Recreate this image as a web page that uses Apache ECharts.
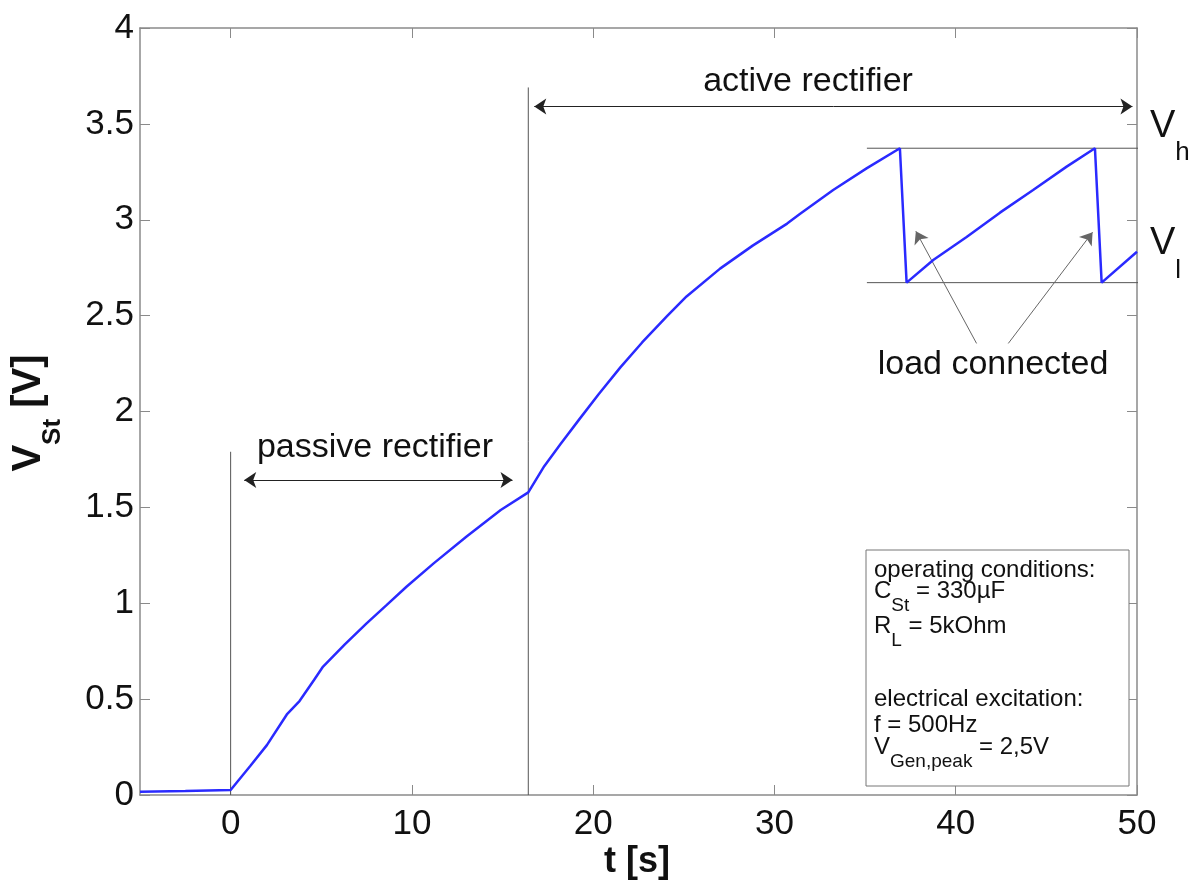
<!DOCTYPE html>
<html>
<head>
<meta charset="utf-8">
<script src="https://cdn.jsdelivr.net/npm/echarts@6/dist/echarts.min.js"></script>
<style>
html, body { margin: 0; background: #fff; }
#chart { width: 1200px; height: 882px; }
</style>
</head>
<body>
<div id="chart"></div>
<script>
// measured storage capacitor voltage
var timeData = [-5, -2.5, 0, 1.07, 2, 3.1, 3.8, 4.6, 5.1, 6.3, 7.5, 8.6, 9.7, 11.2, 13, 14.9, 16.42,
    17.3, 18.2, 19.2, 20.3, 21.5, 22.7, 24.1, 25.15, 27, 28.8, 30.7, 31.4, 33.24, 35.08, 36.92,
    37.29, 38.76, 40.6, 42.44, 44.27, 46.12, 47.68, 48.05, 50];
var voltageData = [0.017, 0.021, 0.026, 0.15, 0.26, 0.42, 0.49, 0.6, 0.67, 0.785, 0.895, 0.99, 1.086, 1.208, 1.347, 1.486, 1.578,
    1.715, 1.83, 1.955, 2.09, 2.23, 2.36, 2.5, 2.6, 2.745, 2.865, 2.98, 3.03, 3.155, 3.268, 3.373,
    2.672, 2.79, 2.91, 3.037, 3.155, 3.277, 3.373, 2.672, 2.833];

var xTickValues = [0, 10, 20, 30, 40, 50];
var vHigh = 3.373;
var vLow = 2.672;
var levelTime = [35.1, 51.4];
var passiveStart = [[0, 0], [0, 1.79]];
var activeStart = [[16.42, 0], [16.42, 3.69]];
var activeArrow = [[16.75, 3.59], [49.75, 3.59]];
var passiveArrow = [[0.75, 1.643], [15.55, 1.643]];
var loadArrow1 = [[41.15, 2.355], [37.8, 2.94]];
var loadArrow2 = [[42.9, 2.355], [47.55, 2.935]];

var FONT = "'Liberation Sans', Arial, sans-serif";
var axisGray = '#8a8a8a';

function zip(xs, ys) {
    var out = [];
    for (var i = 0; i < xs.length; i++) out.push([xs[i], ys[i]]);
    return out;
}

function helperLine(data) {
    return {
        type: 'line',
        data: data,
        symbol: 'none',
        clip: false,
        silent: true,
        lineStyle: { color: '#555', width: 1 },
        z: 3
    };
}

function subText(x, y, parts, fs, subFs, pad, bold, rot) {
    return {
        type: 'text',
        x: x,
        y: y,
        z: 20,
        rotation: rot || 0,
        silent: true,
        style: {
            text: parts,
            align: rot ? 'center' : 'left',
            verticalAlign: 'top',
            fill: '#111',
            rich: {
                m: { fontSize: fs, fontFamily: FONT, fontWeight: bold ? 'bold' : 'normal', verticalAlign: 'top' },
                s: { fontSize: subFs, fontFamily: FONT, fontWeight: bold ? 'bold' : 'normal', verticalAlign: 'top', padding: [pad, 0, 0, 0] }
            }
        }
    };
}

function plainText(x, y, txt, fs, align) {
    return {
        type: 'text',
        x: x,
        y: y,
        z: 20,
        silent: true,
        style: {
            text: txt,
            fontSize: fs,
            fontFamily: FONT,
            fill: '#111',
            align: align || 'center',
            verticalAlign: 'middle'
        }
    };
}

var chart = echarts.init(document.getElementById('chart'));

var arrowSeries = helperLine(passiveStart);
arrowSeries.markLine = {
    silent: true,
    animation: false,
    symbolSize: 12,
    label: { show: false },
    lineStyle: { color: '#222', width: 1, type: 'solid' },
    data: [
        [{ coord: activeArrow[0], symbol: 'arrow' }, { coord: activeArrow[1], symbol: 'arrow' }],
        [{ coord: passiveArrow[0], symbol: 'arrow' }, { coord: passiveArrow[1], symbol: 'arrow' }],
        [{ coord: loadArrow1[0], symbol: 'none' }, { coord: loadArrow1[1], symbol: 'arrow' }],
        [{ coord: loadArrow2[0], symbol: 'none' }, { coord: loadArrow2[1], symbol: 'arrow' }]
    ]
};
arrowSeries.markLine.data[2].forEach(function (d) { d.lineStyle = { color: '#666' }; });
arrowSeries.markLine.data[3].forEach(function (d) { d.lineStyle = { color: '#666' }; });

var option = {
    animation: false,
    backgroundColor: '#fff',
    grid: { left: 140, right: 63, top: 28, bottom: 87 },
    xAxis: [
        {
            type: 'value',
            min: -5,
            max: 50,
            position: 'bottom',
            axisLine: { show: true, onZero: false, lineStyle: { color: axisGray, width: 1.5 } },
            axisTick: { show: true, inside: true, length: 10, customValues: xTickValues, lineStyle: { color: axisGray } },
            axisLabel: { customValues: xTickValues, fontSize: 35, fontFamily: FONT, color: '#111', margin: 12 },
            splitLine: { show: false }
        },
        {
            type: 'value',
            min: -5,
            max: 50,
            position: 'top',
            axisLine: { show: true, onZero: false, lineStyle: { color: axisGray, width: 1.5 } },
            axisTick: { show: true, inside: true, length: 10, customValues: xTickValues, lineStyle: { color: axisGray } },
            axisLabel: { show: false },
            splitLine: { show: false }
        }
    ],
    yAxis: [
        {
            type: 'value',
            min: 0,
            max: 4,
            interval: 0.5,
            position: 'left',
            axisLine: { show: true, onZero: false, lineStyle: { color: axisGray, width: 1.5 } },
            axisTick: { show: true, inside: true, length: 10, lineStyle: { color: axisGray } },
            axisLabel: { fontSize: 35, fontFamily: FONT, color: '#111', margin: 6 },
            splitLine: { show: false }
        },
        {
            type: 'value',
            min: 0,
            max: 4,
            interval: 0.5,
            position: 'right',
            axisLine: { show: true, onZero: false, lineStyle: { color: axisGray, width: 1.5 } },
            axisTick: { show: true, inside: true, length: 10, lineStyle: { color: axisGray } },
            axisLabel: { show: false },
            splitLine: { show: false }
        }
    ],
    series: [
        arrowSeries,
        helperLine(activeStart),
        helperLine([[levelTime[0], vHigh], [levelTime[1], vHigh]]),
        helperLine([[levelTime[0], vLow], [levelTime[1], vLow]]),
        {
            type: 'line',
            data: zip(timeData, voltageData),
            symbol: 'none',
            lineStyle: { color: '#2a2aff', width: 2.5 },
            z: 5
        }
    ],
    graphic: [
        {
            type: 'rect',
            z: 10,
            silent: true,
            shape: { x: 866, y: 550, width: 263, height: 236 },
            style: { fill: '#fff', stroke: '#777', lineWidth: 1 }
        },
        plainText(874, 570, 'operating conditions:', 24, 'left'),
        subText(874, 579, '{m|C}{s|St}{m| = 330µF}', 24, 19, 17),
        subText(874, 614, '{m|R}{s|L}{m| = 5kOhm}', 24, 19, 17),
        plainText(874, 699, 'electrical excitation:', 24, 'left'),
        plainText(874, 725, 'f = 500Hz', 24, 'left'),
        subText(874, 735, '{m|V}{s|Gen,peak}{m| = 2,5V}', 24, 19, 17),
        plainText(808, 82, 'active rectifier', 34),
        plainText(375, 448, 'passive rectifier', 34),
        plainText(993, 365, 'load connected', 34),
        subText(1150, 108, '{m|V}{s|h}', 38, 26, 32),
        subText(1150, 225, '{m|V}{s|l}', 38, 26, 33),
        subText(9, 413, '{m|V}{s|St}{m| [V]}', 40, 26, 31, true, Math.PI / 2),
        {
            type: 'text',
            x: 637,
            y: 862,
            z: 20,
            silent: true,
            style: { text: 't [s]', fontSize: 36, fontWeight: 'bold', fontFamily: FONT, fill: '#111', align: 'center', verticalAlign: 'middle' }
        }
    ]
};

chart.setOption(option);
</script>
</body>
</html>
